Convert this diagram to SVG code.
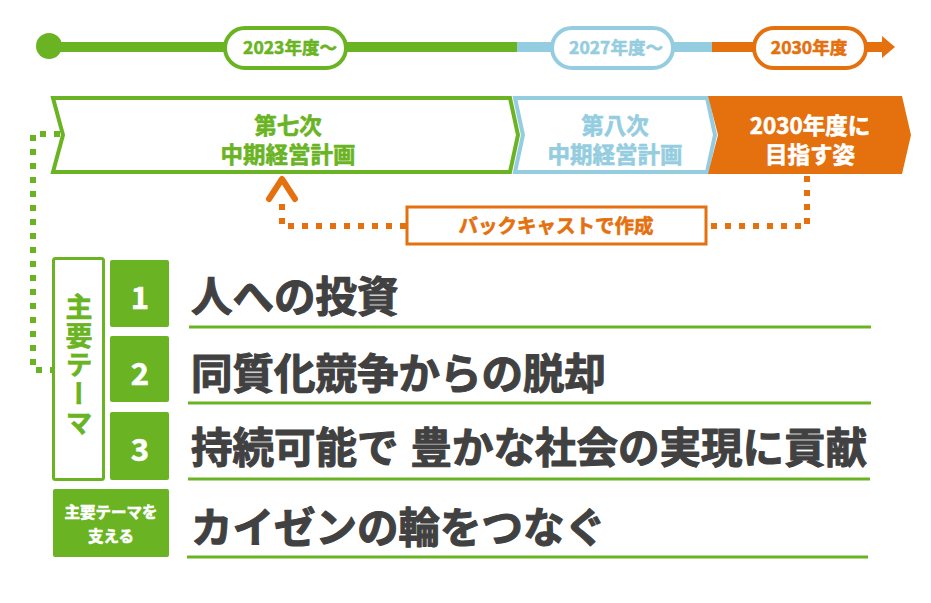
<svg xmlns="http://www.w3.org/2000/svg" width="931" height="603" viewBox="0 0 931 603">
<style>
text{font-family:"Noto Sans CJK JP","Noto Sans",sans-serif;font-weight:700;paint-order:stroke;stroke-linejoin:round}
.g{fill:#6AB423;stroke:#6AB423}.b{fill:#95CDE0;stroke:#95CDE0}.o{fill:#E4700E;stroke:#E4700E}.w{fill:#fff;stroke:#fff}.k{fill:#414141;stroke:#414141}
.s{stroke-width:0.6}
.mid{text-anchor:middle}
.big{font-size:41.5px;stroke-width:1.1}
.dotg{fill:none;stroke:#6AB423;stroke-width:6;stroke-dasharray:6 8}
.doto{fill:none;stroke:#E4700E;stroke-width:6;stroke-dasharray:6 8}
.ul{stroke:#6AB423;stroke-width:3}
</style>
<rect width="931" height="603" fill="#fff"/>
<g id="timeline">
<line x1="49" y1="47" x2="518" y2="47" stroke="#6AB423" stroke-width="10"/>
<line x1="517" y1="47" x2="713" y2="47" stroke="#95CDE0" stroke-width="10"/>
<line x1="712" y1="47" x2="884" y2="47" stroke="#E4700E" stroke-width="10"/>
<polygon points="882,36 895,47 882,58" fill="#E4700E"/>
<circle cx="49" cy="46" r="13" fill="#6AB423"/>
</g>
<g id="pill2023"><rect x="225" y="28" width="121" height="40" rx="20" fill="#fff" stroke="#6AB423" stroke-width="4"/><text x="290" y="54" class="g s mid" font-size="17.5">2023年度～</text></g>
<g id="pill2027"><rect x="552" y="28" width="121" height="40" rx="20" fill="#fff" stroke="#95CDE0" stroke-width="4"/><text x="616" y="54" class="b s mid" font-size="17.5">2027年度～</text></g>
<g id="pill2030"><rect x="754" y="28" width="112" height="40" rx="20" fill="#fff" stroke="#E4700E" stroke-width="4"/><text x="809" y="54" class="o s mid" font-size="17.5">2030年度</text></g>
<g id="plan7"><polygon points="53,98 510,98 518,135 510,172 53,172 63,135" fill="#fff" stroke="#6AB423" stroke-width="4"/><text x="288" y="134" class="g s mid" font-size="22.5">第七次</text><text x="288" y="163" class="g s mid" font-size="22.5">中期経営計画</text></g>
<g id="plan8"><polygon points="515,98 707,98 715,135 707,172 515,172 523,135" fill="#fff" stroke="#95CDE0" stroke-width="4"/><text x="615" y="134" class="b s mid" font-size="22.5">第八次</text><text x="615" y="163" class="b s mid" font-size="22.5">中期経営計画</text></g>
<g id="goal2030"><polygon points="708,96 902,96 911,135 902,174 708,174 718,135" fill="#E4700E"/><text x="810" y="134" class="w s mid" font-size="22.5">2030年度に</text><text x="810" y="163" class="w s mid" font-size="22.5">目指す姿</text></g>
<g id="backcast"><rect x="407" y="207" width="299" height="37" fill="#fff" stroke="#E4700E" stroke-width="3"/><text x="556" y="233" class="o s mid" font-size="19.5">バックキャストで作成</text></g>
<g id="connectors">
<path class="dotg" d="M60 134H33V370H52"/>
<path class="doto" d="M807 176V226H707"/>
<path class="doto" d="M406 226H282V204"/>
<polyline points="269,199 282,179 295,199" fill="none" stroke="#E4700E" stroke-width="6" stroke-linecap="round" stroke-linejoin="round"/>
</g>
<g id="themes-label"><rect x="53.5" y="258.5" width="50" height="221" rx="2" fill="#fff" stroke="#6AB423" stroke-width="3"/><text x="79" y="293" class="g s" font-size="27" writing-mode="vertical-rl" letter-spacing="2">主要テーマ</text></g>
<g id="n1"><rect x="110" y="260" width="59" height="67" rx="2" fill="#6AB423"/><text x="140" y="309" class="w s mid" font-size="31">1</text></g>
<g id="n2"><rect x="110" y="336" width="59" height="66" rx="2" fill="#6AB423"/><text x="140" y="385" class="w s mid" font-size="31">2</text></g>
<g id="n3"><rect x="110" y="412" width="59" height="68" rx="2" fill="#6AB423"/><text x="140" y="461" class="w s mid" font-size="31">3</text></g>
<g id="support"><rect x="53" y="489" width="116" height="68" rx="2" fill="#6AB423"/><text x="111" y="518" class="w s mid" font-size="15.5">主要テーマを</text><text x="111" y="542" class="w s mid" font-size="15.5">支える</text></g>
<g id="t1"><text x="191" y="312" class="k big">人への投資</text><line class="ul" x1="189" y1="327" x2="871" y2="327"/></g>
<g id="t2"><text x="191" y="389" class="k big">同質化競争からの脱却</text><line class="ul" x1="188" y1="403" x2="871" y2="403"/></g>
<g id="t3"><text x="191" y="463" class="k big">持続可能で<tspan dx="12">豊かな社会の実現に貢献</tspan></text><line class="ul" x1="188" y1="479" x2="870" y2="479"/></g>
<g id="t4"><text x="191" y="543" class="k big">カイゼンの輪をつなぐ</text><line class="ul" x1="187" y1="557" x2="868" y2="557"/></g>
</svg>
